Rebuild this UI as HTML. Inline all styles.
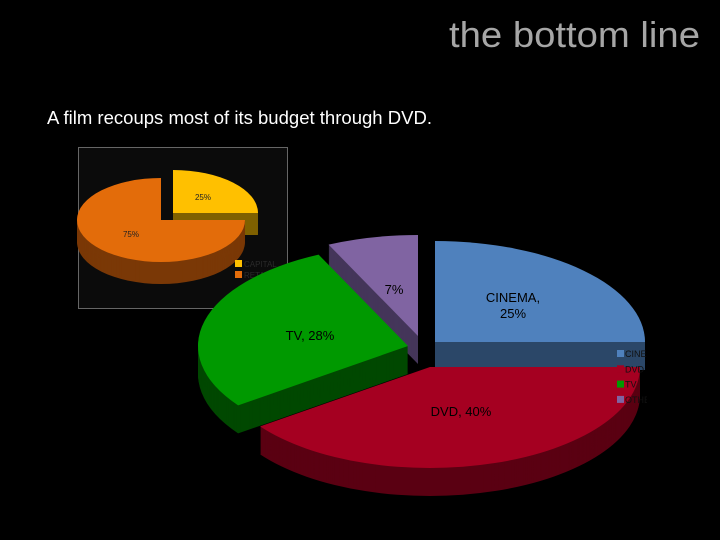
<!DOCTYPE html>
<html><head><meta charset="utf-8"><style>
body{margin:0;background:#000;width:720px;height:540px;overflow:hidden}
svg{display:block}
</style></head><body>
<svg id="s" width="720" height="540" xmlns="http://www.w3.org/2000/svg" font-family="Liberation Sans, sans-serif">
<rect width="720" height="540" fill="#000"/>
<text x="700" y="47" text-anchor="end" font-size="36" fill="#a6a6a6" textLength="251" lengthAdjust="spacingAndGlyphs">the bottom line</text>
<text x="47" y="124" font-size="18" fill="#fff" textLength="385" lengthAdjust="spacingAndGlyphs">A film recoups most of its budget through DVD.</text>
<rect x="78.5" y="147.5" width="209" height="161" fill="#0b0b0b" stroke="#666"/>
<g id="small"></g>
<g id="main"></g>
<text x="696" y="512" text-anchor="end" font-size="12.5" fill="#000" font-style="italic"><tspan font-weight="bold">Source:</tspan> Screen Digest, BVA, ERA</text>
</svg>
<script>
const mainCats=["CINEMA","DVD","TV","OTHER"];
const mainVals=[25,40,28,7];
const mainLabels=["CINEMA,\n25%","DVD, 40%","TV, 28%","7%"];
const smallCats=["CAPITAL","RETAIL"];
const smallVals=[25,75];

const NS="http://www.w3.org/2000/svg";
function mk(t,a,p){const e=document.createElementNS(NS,t);for(const k in a)e.setAttribute(k,a[k]);p.appendChild(e);return e;}
function pt(cx,cy,rx,ry,a){return [cx+rx*Math.sin(a),cy-ry*Math.cos(a)];}
function slicePath(cx,cy,rx,ry,a0,a1){
  const p0=pt(cx,cy,rx,ry,a0),p1=pt(cx,cy,rx,ry,a1);
  const large=(a1-a0)>Math.PI?1:0;
  return `M${cx},${cy}L${p0[0]},${p0[1]}A${rx},${ry} 0 ${large} 1 ${p1[0]},${p1[1]}Z`;
}
function drawPie(g,vals,centers,rads,depth,tops,sides,order,names){
  const tot=vals.reduce((a,b)=>a+b,0);let acc=0;const ang=[];
  vals.forEach(v=>{ang.push([acc/tot*2*Math.PI,(acc+v)/tot*2*Math.PI]);acc+=v;});
  order.forEach(i=>{
    const [cx,cy]=centers[i],[a0,a1]=ang[i],[rx,ry]=rads[i];
    const sg=mk('g',{},g);
    
    
    for(let d=depth;d>0;d-=1)mk('path',{d:slicePath(cx,cy+d,rx,ry,a0,a1),fill:sides[i]},sg);
    mk('path',{d:slicePath(cx,cy,rx,ry,a0,a1),fill:tops[i]},sg);
  });
  return ang;
}
const main=document.getElementById('main');
const mc=[[435,342],[430,367],[408,346],[418,336]];
const mr=[[210,101],[210,101],[210,101],[210,101]];
drawPie(main,mainVals,mc,mr,28,["#4f81bd","#a50021","#009900","#8064a2"],["#2b4768","#5a0012","#004800","#45365a"],[3,0,2,1],["cinema","dvd","tv","other"]);
const lp=[[513,302],[461,416],[310,340],[394,294]];
mainLabels.forEach((l,i)=>{
  const t=mk('text',{x:lp[i][0],y:lp[i][1],'text-anchor':'middle','font-size':'13',fill:'#000'},main);
  
  
  l.split('\n').forEach((s,j)=>{const ts=mk('tspan',{x:lp[i][0],dy:j?16:0},t);ts.textContent=s;});
});
const cp=mk('clipPath',{id:'lc'},main);mk('rect',{x:600,y:340,width:47,height:70},cp);
const lg=mk('g',{'clip-path':'url(#lc)'},main);


const lcol=["#4f81bd","#a50021","#009900","#8064a2"];
mainCats.forEach((c,i)=>{
  const y=350+i*15.3;
  mk('rect',{x:617,y:y,width:7,height:7,fill:lcol[i]},lg);
  const t=mk('text',{x:625,y:y+7,'font-size':'9',fill:'#111'},lg);
  
  
  t.textContent=c;
});
const small=document.getElementById('small');
drawPie(small,smallVals,[[173,213],[161,220]],[[85,43],[84,42]],22,["#ffc000","#e36c0a"],["#7f6000","#7a3806"],[0,1],["capital","retail"]);
[["25%",203,200],["75%",131,237]].forEach((a,i)=>{
  const t=mk('text',{x:a[1],y:a[2],'text-anchor':'middle','font-size':'8',fill:'#222'},small);
  
  
  t.textContent=a[0];
});
smallCats.forEach((c,i)=>{
  const y=260+i*11;
  mk('rect',{x:235,y:y,width:7,height:7,fill:["#ffc000","#e36c0a"][i]},small);
  const t=mk('text',{x:244,y:y+7,'font-size':'8',fill:'#2a2a2a'},small);
  
  
  t.textContent=c;
});
</script>
</body></html>
